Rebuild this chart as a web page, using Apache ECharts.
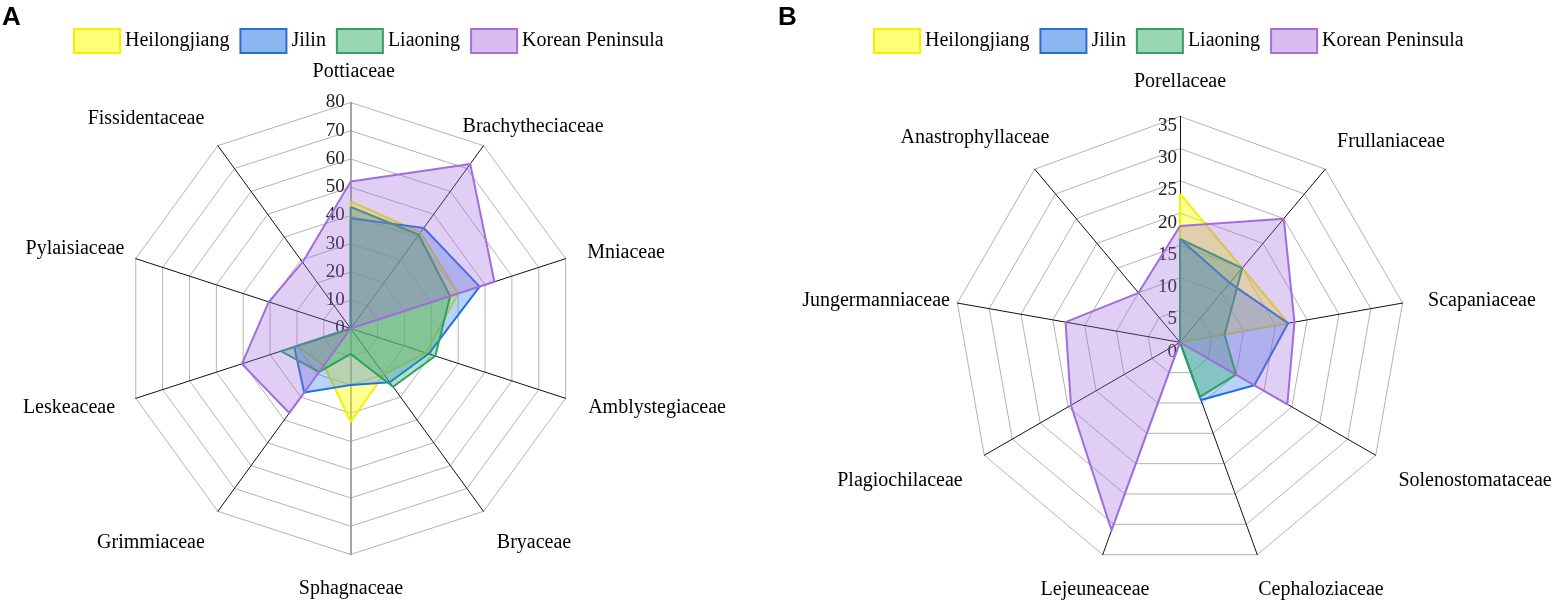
<!DOCTYPE html>
<html>
<head>
<meta charset="utf-8">
<script src="https://cdn.jsdelivr.net/npm/echarts@6/dist/echarts.min.js"></script>
<style>html,body{margin:0;padding:0;background:#fff}#c{width:1555px;height:603px}</style>
</head>
<body>
<div id="c"></div>
<script>
// ---- Data (clockwise from top) ----
var seriesNames = ['Heilongjiang', 'Jilin', 'Liaoning', 'Korean Peninsula'];

var catsA = ['Pottiaceae', 'Brachytheciaceae', 'Mniaceae', 'Amblystegiaceae', 'Bryaceae',
             'Sphagnaceae', 'Grimmiaceae', 'Leskeaceae', 'Pylaisiaceae', 'Fissidentaceae'];
var heiA = [45, 42, 40, 28, 20, 33, 16, 20, 0, 0];
var jilA = [39, 44, 48, 29, 23.5, 20, 28, 21, 0, 0];
var liaA = [43, 41, 37, 31.5, 25.5, 9, 19, 26, 0, 0];
var korA = [52, 72, 53.5, 0, 0, 0, 37, 40.5, 30.5, 29];
var maxA = 80, splitA = 8;

var catsB = ['Porellaceae', 'Frullaniaceae', 'Scapaniaceae', 'Solenostomataceae', 'Cephaloziaceae',
             'Lejeuneaceae', 'Plagiochilaceae', 'Jungermanniaceae', 'Anastrophyllaceae'];
var heiB = [23, 15, 17, 0, 0, 0, 0, 0, 0];
var jilB = [16, 12, 17, 13.3, 9.5, 0, 0, 0, 0];
var liaB = [16, 15, 7, 10, 9, 0, 0, 0, 0];
var korB = [18, 25, 18, 19.2, 0, 31, 19.5, 18, 10];
var maxB = 35, splitB = 7;

// ---- Styles / layout ----
var lineColors = ['#eeee00', '#1e6fdc', '#2ea060', '#a070dc'];
var areaColors = ['rgba(255,255,0,0.6)', 'rgba(50,130,235,0.5)', 'rgba(40,170,100,0.5)', 'rgba(160,100,220,0.45)'];
var legFill = ['#ffff78', '#8cb6f0', '#98d6b4', '#d8bcf0'];
var legBorder = ['#f2f200', '#2a6ed0', '#3a9c68', '#a072d4'];
var serif = 'Liberation Serif';
var R = 226;
var centerA = [350.7, 328.5], centerB = [1180, 342.3];
// label centre offsets from each axis end (pixels), clockwise order
var nameOffA = [[3, -30.5], [49.5, -18.7], [60.4, -5.7], [91.4, 9.7], [50.5, 31.7],
                [0.3, 34.5], [-66.9, 31.7], [-66.8, 9.7], [-60.8, -9.7], [-71.9, -26.7]];
var nameOffB = [[0, -34.3], [65.7, -27.2], [79.4, -2.1], [99.3, 25.7], [63.7, 35.3],
                [-7.7, 35.3], [-84.3, 25.7], [-81.4, -2.1], [-59.7, -31.2]];

// ECharts radar runs counter-clockwise; reorder so the picture reads clockwise
function cw(arr) { return [arr[0]].concat(arr.slice(1).reverse()); }

function indicators(cats, max, grayIdx, vAlign, margin) {
  return cw(cats).map(function (n, i) {
    var o = { name: n, min: 0, max: max };
    if (i === 0) {
      o.axisLabel = { show: true, color: '#222', fontSize: 19, fontFamily: serif, margin: margin, verticalAlign: vAlign };
    }
    if (grayIdx.indexOf(n) >= 0) {
      o.axisLine = { lineStyle: { color: '#888', width: 1.5 } };
    }
    return o;
  });
}

function radarCfg(center, cats, max, split, grayIdx, vAlign, margin) {
  return {
    center: center, radius: R, startAngle: 90, shape: 'polygon', splitNumber: split,
    indicator: indicators(cats, max, grayIdx, vAlign, margin),
    axisName: { show: false },
    splitLine: { lineStyle: { color: '#b4b4b4', width: 1 } },
    splitArea: { show: false },
    axisLine: { lineStyle: { color: '#111', width: 1 } },
    axisTick: { show: false },
    axisLabel: { show: false }
  };
}

function seriesFor(idx, arrays) {
  return {
    type: 'radar', radarIndex: idx, symbol: 'none', silent: true,
    data: arrays.map(function (arr, k) {
      return {
        name: seriesNames[k], value: cw(arr),
        lineStyle: { color: lineColors[k], width: 2 },
        itemStyle: { color: lineColors[k] },
        areaStyle: { color: areaColors[k] }
      };
    })
  };
}

function legendCfg(left) {
  return {
    left: left, top: 28, orient: 'horizontal', padding: 0,
    itemWidth: 46, itemHeight: 24, itemGap: 10, icon: 'rect',
    textStyle: { fontSize: 20, fontFamily: serif, color: '#000' },
    data: seriesNames.map(function (n, k) {
      return { name: n, icon: 'rect', itemStyle: { color: legFill[k], borderColor: legBorder[k], borderWidth: 2 } };
    })
  };
}

// indicator names as text placed at each axis end (clockwise angles)
function nameTexts(cats, center, offs) {
  var n = cats.length;
  return cats.map(function (name, i) {
    var th = i * 2 * Math.PI / n;
    var x = center[0] + R * Math.sin(th) + offs[i][0];
    var y = center[1] - R * Math.cos(th) + offs[i][1];
    return {
      type: 'text', x: x, y: y, silent: true,
      style: { text: name, fill: '#000', font: '20px "' + serif + '"', align: 'center', verticalAlign: 'middle' }
    };
  });
}

var chart = echarts.init(document.getElementById('c'), null, { renderer: 'canvas' });
chart.setOption({
  animation: false,
  backgroundColor: '#fff',
  legend: [legendCfg(73), legendCfg(873)],
  radar: [
    radarCfg(centerA, catsA, maxA, splitA, ['Pottiaceae', 'Sphagnaceae'], 'middle', 6),
    radarCfg(centerB, catsB, maxB, splitB, [], 'top', 3)
  ],
  series: [
    seriesFor(0, [heiA, jilA, liaA, korA]),
    seriesFor(1, [heiB, jilB, liaB, korB])
  ],
  graphic: [
    { type: 'text', left: 2, top: 5, style: { text: 'A', font: 'bold 26px "Liberation Sans"', fill: '#000' } },
    { type: 'text', left: 778, top: 5, style: { text: 'B', font: 'bold 26px "Liberation Sans"', fill: '#000' } }
  ].concat(nameTexts(catsA, centerA, nameOffA), nameTexts(catsB, centerB, nameOffB))
});
</script>
</body>
</html>
